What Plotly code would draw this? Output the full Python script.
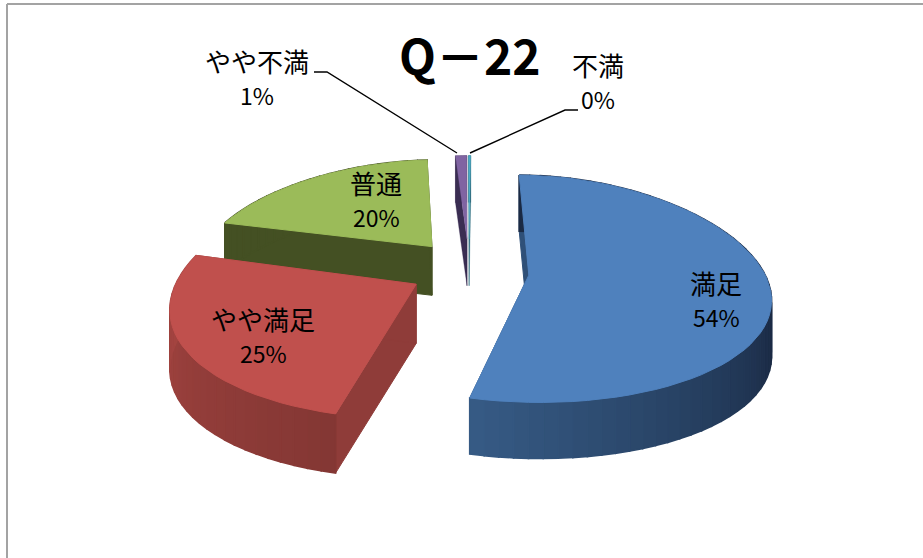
import math
import plotly.graph_objects as go

categories = ["満足", "やや満足", "普通", "やや不満", "不満"]
values = [54, 25, 20, 1, 0.2]
percent_labels = ["54%", "25%", "20%", "1%", "0%"]
title_text = "Q\uff0d22"

top_colors = ["#4f81bd", "#c0504d", "#9bbb59", "#8064a2", "#4bacc6"]
wall_colors = ["#2f5078", "#8f3c39", "#445023", "#3a2d52", "#2a6a7c"]
arc_start = [(54, 90, 132), (132, 55, 52), (68, 80, 35), (58, 45, 82), (40, 100, 120)]
arc_end = [(26, 42, 68), (168, 70, 66), (68, 80, 35), (58, 45, 82), (40, 100, 120)]
label_pos = [(716, 282), (263, 318), (376, 182), (257, 60), (598, 64)]

FONT = "Noto Sans CJK JP"
CX, CY = 469.0, 272.0
EX, EY_BACK, EY_FRONT = 60.0, 33.0, 24.0
RX, RY = 235.0, 111.5
START = 0.5
DEPTH = 55.0
PERSP = 0.19


def rgb(c):
    return "rgb(%d,%d,%d)" % tuple(round(v) for v in c)


def mix(a, b, t):
    return tuple(a[i] + (b[i] - a[i]) * t for i in range(3))


def poly(fig, pts, color, line=1.0):
    fig.add_trace(go.Scatter(
        x=[p[0] for p in pts] + [pts[0][0]],
        y=[p[1] for p in pts] + [pts[0][1]],
        mode="lines", fill="toself", fillcolor=color,
        line=dict(color=color, width=line), hoverinfo="skip", showlegend=False))


fig = go.Figure()

total = sum(values)
wedges = []
a = START
for i, v in enumerate(values):
    span = v / total * 360
    wedges.append((i, a, a + span))
    a += span

order = [3, 4, 2, 0, 1]
for i in order:
    _, a0, a1 = wedges[i]
    mid = math.radians((a0 + a1) / 2)
    ev = math.cos(mid)
    wx = EX * math.sin(mid)
    ay = CY - (EY_BACK if ev > 0 else EY_FRONT) * ev
    s = 1 - 0.15 * ev
    depth = DEPTH * s
    e_norm = 0.24

    def pt(deg):
        t = math.radians(deg)
        v_ = math.cos(t)
        world_x = wx + RX * math.sin(t)
        p = 1 - PERSP * (ev * e_norm + v_)
        return (CX + world_x * p, ay - v_ * RY * (1 - 0.12 * v_) * s)

    apex = (CX + wx * (1 - PERSP * ev * e_norm), ay)
    n = max(2, int((a1 - a0) / 3))
    angles = [a0 + (a1 - a0) * k / n for k in range(n + 1)]
    rim = [pt(d) for d in angles]
    down = lambda p: (p[0], p[1] + depth)
    thin = i >= 3
    lw = 0.3 if thin else 1.0
    poly(fig, [rim[0], apex, down(apex), down(rim[0])], wall_colors[i], lw)
    poly(fig, [rim[-1], apex, down(apex), down(rim[-1])], wall_colors[i], lw)
    for k in range(n):
        t = k / max(1, n - 1)
        if i == 0:
            t = min(1, (1 - t) * 2.2)
        c = rgb(mix(arc_start[i], arc_end[i], t))
        p, q = rim[k], rim[k + 1]
        poly(fig, [p, q, down(q), down(p)], c, 1.6 if not thin else 0.3)
    poly(fig, [apex] + rim, top_colors[i], lw)

shapes = [
    dict(type="line", x0=7, y0=4, x1=923, y1=4, line=dict(color="#a3a3a3", width=2)),
    dict(type="line", x0=7, y0=4, x1=7, y1=558, line=dict(color="#a3a3a3", width=2)),
    dict(type="path", path="M 314 72 L 327 72 L 457 153", line=dict(color="#000000", width=1.4)),
    dict(type="path", path="M 578 110 L 565 110 L 470 153", line=dict(color="#000000", width=1.4)),
]

annotations = []
for name, pct, (lx, ly) in zip(categories, percent_labels, label_pos):
    annotations.append(dict(x=lx, y=ly, xref="x", yref="y", text=name, showarrow=False,
                            xanchor="center", yanchor="middle",
                            font=dict(family=FONT, size=26, color="#000000")))
    annotations.append(dict(x=lx, y=ly + 35, xref="x", yref="y", text=pct, showarrow=False,
                            xanchor="center", yanchor="middle",
                            font=dict(family=FONT, size=23, color="#000000")))
annotations.append(dict(x=470, y=54, xref="x", yref="y", text="<b>%s</b>" % title_text, showarrow=False,
                        xanchor="center", yanchor="middle",
                        font=dict(family=FONT, size=48, color="#000000")))

fig.update_layout(
    width=923, height=558, margin=dict(l=0, r=0, t=0, b=0),
    paper_bgcolor="#ffffff", plot_bgcolor="#ffffff", showlegend=False,
    xaxis=dict(range=[0, 923], visible=False, fixedrange=True),
    yaxis=dict(range=[558, 0], visible=False, fixedrange=True),
    shapes=shapes, annotations=annotations,
)
fig.write_html("out.html", config=dict(displayModeBar=False),
               post_script="document.body.style.margin='0';document.body.style.overflow='hidden';")
